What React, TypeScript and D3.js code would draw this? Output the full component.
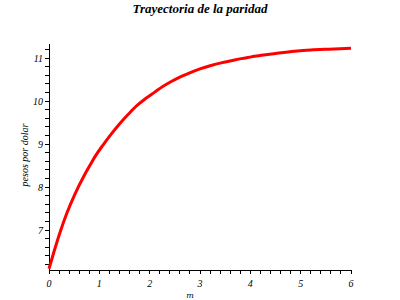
import React from "react";
import * as d3 from "d3";

const xValues = [0, 0.1, 0.22, 0.35, 0.52, 0.7, 0.82, 0.92, 1.08, 1.22, 1.4, 1.58, 1.75, 1.92, 2.1, 2.26, 2.42, 2.6, 2.82, 3.0, 3.22, 3.42, 3.62, 3.82, 4.02, 4.22, 4.5, 4.88, 5.2, 5.56, 6.0];
const yValues = [6.1, 6.5, 6.95, 7.38, 7.85, 8.27, 8.52, 8.72, 8.99, 9.21, 9.47, 9.7, 9.9, 10.06, 10.21, 10.34, 10.45, 10.56, 10.67, 10.75, 10.83, 10.89, 10.94, 10.99, 11.03, 11.07, 11.11, 11.16, 11.19, 11.21, 11.23];
const xTickLabels = [0, 1, 2, 3, 4, 5, 6];
const yTickLabels = [7, 8, 9, 10, 11];
const titleText = "Trayectoria de la paridad";
const yLabelText = "pesos por dolar";
const xLabelText = "m";

export default function App() {
  const W = 400, H = 300;
  const x = d3.scaleLinear().domain([0, 6]).range([49, 351]);
  const y = d3.scaleLinear().domain([6.07, 11.33]).range([270, 44]);
  const pts = xValues.map((v, i) => [v, yValues[i]] as [number, number]);
  const line = d3.line<[number, number]>().x(d => x(d[0])).y(d => y(d[1])).curve(d3.curveMonotoneX);
  const xMinor = d3.range(0, 30.001, 1).map(i => i * 0.2);
  const yMinor = d3.range(31, 57, 1).map(i => i * 0.2).filter(v => v >= 6.07 && v <= 11.33);
  const serif = { fontFamily: "'DejaVu Serif', 'Liberation Serif', serif", fontStyle: "italic" as const };
  const serifT = { fontFamily: "'Liberation Serif', 'DejaVu Serif', serif", fontStyle: "italic" as const };
  return (
    <svg width={W} height={H} style={{ position: "absolute", left: 0, top: 0, background: "#fff" }}>
      <text x={200} y={13} textAnchor="middle" style={{ ...serifT, fontWeight: "bold", fontSize: 13 }}>{titleText}</text>
      <line x1={x(0)} x2={x(0)} y1={y(6.07)} y2={y(11.33)} stroke="#000" strokeWidth={1} shapeRendering="crispEdges" />
      <line x1={x(0)} x2={x(6)} y1={y(6.07)} y2={y(6.07)} stroke="#000" strokeWidth={1} shapeRendering="crispEdges" />
      {xMinor.map((v, i) => (
        <line key={"xm" + i} x1={x(v)} x2={x(v)} y1={270} y2={274} stroke="#000" shapeRendering="crispEdges" />
      ))}
      {yMinor.map((v, i) => (
        <line key={"ym" + i} x1={45} x2={49} y1={y(v)} y2={y(v)} stroke="#000" shapeRendering="crispEdges" />
      ))}
      {xTickLabels.map(v => (
        <text key={"xl" + v} x={x(v)} y={287} textAnchor="middle" style={{ ...serifT, fontSize: 10 }}>{v}</text>
      ))}
      {yTickLabels.map(v => (
        <text key={"yl" + v} x={43} y={y(v) + 3.5} textAnchor="end" style={{ ...serifT, fontSize: 10 }}>{v}</text>
      ))}
      <text transform="translate(28,155) rotate(-90)" textAnchor="middle" style={{ ...serifT, fontSize: 10 }}>{yLabelText}</text>
      <text x={190} y={298} textAnchor="middle" style={{ ...serif, fontSize: 8 }}>{xLabelText}</text>
      <path d={line(pts) || ""} fill="none" stroke="#ff0000" strokeWidth={3} />
    </svg>
  );
}
